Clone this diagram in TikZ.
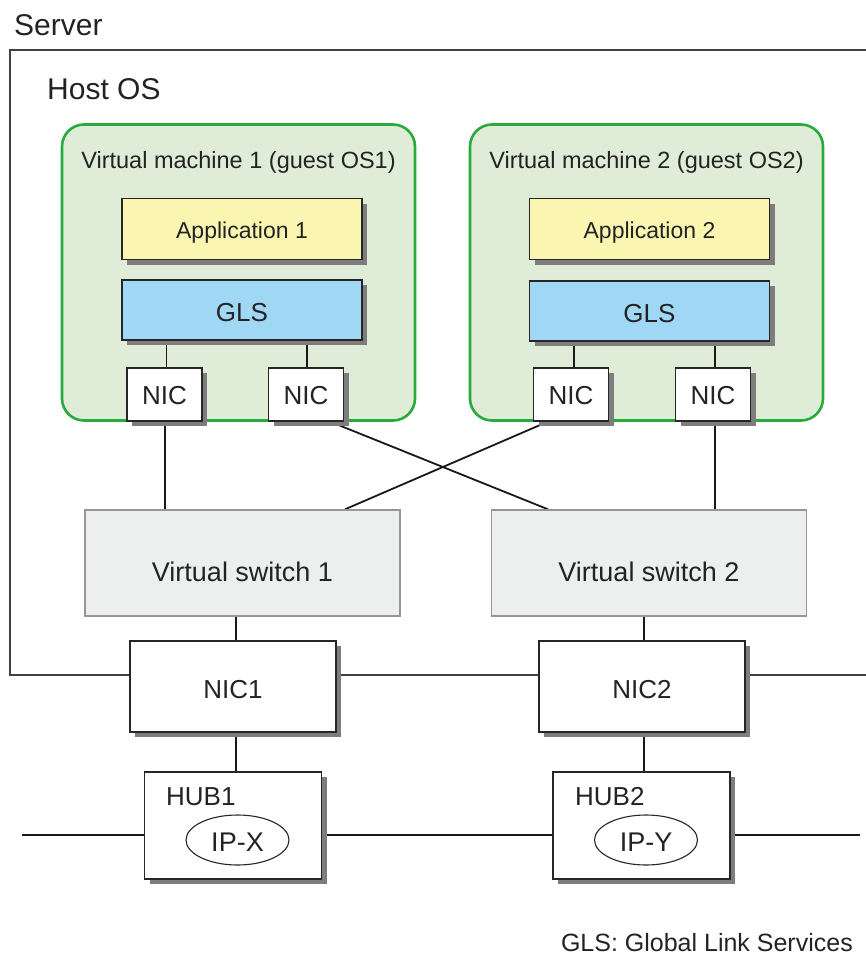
\documentclass[tikz,border=0pt]{standalone}
\usepackage{fontspec}
\setmainfont{Liberation Sans}
\usetikzlibrary{shadows,shapes.geometric}
\definecolor{txt}{RGB}{35,35,35}
\definecolor{vmfill}{RGB}{223,237,216}
\definecolor{vmline}{RGB}{40,170,60}
\definecolor{appfill}{RGB}{251,245,178}
\definecolor{glsfill}{RGB}{160,215,245}
\definecolor{vsfill}{RGB}{237,238,238}
\definecolor{vsline}{RGB}{150,150,150}
\definecolor{shad}{RGB}{125,125,125}
\pgfdeclarelayer{bg}
\pgfdeclarelayer{lines}
\pgfsetlayers{bg,lines,main}
\tikzset{
  fs/.style={font=\fontsize{#1}{#1}\selectfont},
  sbox/.style={draw=black!85, line width=1.2pt, inner sep=0pt, text=txt, text depth=0pt,
    drop shadow={shadow xshift=5pt, shadow yshift=-5pt, fill=shad, opacity=1}},
  appbox/.style={sbox, fill=appfill, minimum width=240pt, minimum height=61pt, fs=23, text height=19.6pt},
  glsbox/.style={sbox, fill=glsfill, minimum width=240pt, minimum height=60pt, fs=26, text height=23.7pt},
  nicbox/.style={sbox, fill=white, minimum width=75pt, minimum height=53pt, fs=26, text height=20.7pt},
  bignic/.style={sbox, fill=white, minimum width=206pt, minimum height=91pt, fs=26, text height=23.7pt},
  hubbox/.style={sbox, fill=white, minimum width=177pt, minimum height=107pt},
  vmbox/.style={draw=vmline, fill=vmfill, line width=2.6pt, rounded corners=22pt,
    minimum width=353pt, minimum height=296pt, inner sep=0pt},
  vsbox/.style={draw=vsline, fill=vsfill, line width=1.4pt, minimum width=315pt,
    minimum height=106pt, inner sep=0pt, text=txt, fs=27, text height=37.4pt, text depth=0pt},
  ipell/.style={ellipse, draw=black!85, line width=1.1pt, fill=white,
    minimum width=103pt, minimum height=50pt, inner sep=0pt, text=txt, fs=27,
    text height=23.4pt, text depth=0pt},
  conn/.style={draw=black!90, line width=1.8pt},
  lbl/.style={text=txt, inner sep=0pt},
}
\begin{document}
\begin{tikzpicture}[x=1pt,y=-1pt]
\useasboundingbox (0,0) rectangle (866,956);

% labels
\node[lbl, fs=30, anchor=base west] (server) at (14,35) {Server};
\node[lbl, fs=30, anchor=base west] (hostos) at (47,99) {Host OS};

% virtual machines
\begin{pgfonlayer}{bg}
\node[vmbox] (vm1) at (238.5,272.5) {};
\node[vmbox] (vm2) at (646.5,272.5) {};
\end{pgfonlayer}
\node[lbl, fs=23.5, anchor=base] (vm1t) at (238.5,168) {Virtual machine 1 (guest OS1)};
\node[lbl, fs=23.5, anchor=base] (vm2t) at (646.5,168) {Virtual machine 2 (guest OS2)};

\node[appbox] (app1) at (242,229) {Application 1};
\node[glsbox] (gls1) at (242,310) {GLS};
\node[appbox] (app2) at (649.5,229) {Application 2};
\node[glsbox] (gls2) at (649.5,311) {GLS};

\node[nicbox] (nica) at (164.5,394.5) {NIC};
\node[nicbox] (nicb) at (306,394.5) {NIC};
\node[nicbox] (nicc) at (571,394.5) {NIC};
\node[nicbox] (nicd) at (713,394.5) {NIC};

\node[vsbox] (vs1) at (242.5,563) {Virtual switch 1};
\node[vsbox] (vs2) at (649,563) {Virtual switch 2};

\node[bignic] (nic1) at (233,686.5) {NIC1};
\node[bignic] (nic2) at (642,686.5) {NIC2};

\node[hubbox] (hub1) at (233,825.5) {};
\node[hubbox] (hub2) at (641.5,825.5) {};
\node[lbl, fs=26, anchor=base west] (hub1t) at (166,805) {HUB1};
\node[lbl, fs=26, anchor=base west] (hub2t) at (575,805) {HUB2};
\node[ipell] (ipx) at (237.5,840) {IP-X};
\node[ipell] (ipy) at (646,840) {IP-Y};

\node[lbl, fs=25, anchor=base east] (note) at (853,951) {GLS: Global Link Services};

% connectors
\coordinate (srvtr) at (866,50);
\coordinate (srvtl) at (10,50);
\coordinate (srvbl) at (10,675);
\coordinate (srvbr) at (866,675);
\coordinate (netl) at (22,835);
\coordinate (netr) at (860,835);
\begin{pgfonlayer}{lines}
\draw[draw=black!75, line width=1.4pt] (srvtr) -- (srvtl) -- (srvbl) -- (srvbl -| nic1.west);
\draw[draw=black!75, line width=1.4pt] (srvbl -| nic1.east) -- (srvbl -| nic2.west);
\draw[draw=black!75, line width=1.4pt] (srvbl -| nic2.east) -- (srvbr);

\draw[conn] ([xshift=2pt]nica.north) -- ([xshift=2pt]nica.north |- gls1.south);
\draw[conn] ([xshift=1pt]nicb.north) -- ([xshift=1pt]nicb.north |- gls1.south);
\draw[conn] ([xshift=3pt]nicc.north) -- ([xshift=3pt]nicc.north |- gls2.south);
\draw[conn] ([xshift=2pt]nicd.north) -- ([xshift=2pt]nicd.north |- gls2.south);

\draw[conn] ([xshift=0.5pt]nica.south) -- ([xshift=0.5pt]nica.south |- vs1.north);
\draw[conn] ([xshift=2pt]nicd.south) -- ([xshift=2pt]nicd.south |- vs2.north);
\draw[conn] ([xshift=24pt]nicb.south) -- ([xshift=-101pt]vs2.north);
\draw[conn] ([xshift=-23pt]nicc.south) -- ([xshift=102.5pt]vs1.north);

\draw[conn] ([xshift=3pt]nic1.north) -- ([xshift=3pt]nic1.north |- vs1.south);
\draw[conn] ([xshift=2pt]nic2.north) -- ([xshift=2pt]nic2.north |- vs2.south);
\draw[conn] ([xshift=3pt]hub1.north) -- ([xshift=3pt]hub1.north |- nic1.south);
\draw[conn] ([xshift=2.5pt]hub2.north) -- ([xshift=2.5pt]hub2.north |- nic2.south);

\draw[conn, line width=2.2pt] (netl) -- (netl -| hub1.west);
\draw[conn, line width=2.2pt] (netl -| hub1.east) -- (netl -| hub2.west);
\draw[conn, line width=2.2pt] (netl -| hub2.east) -- (netr);
\end{pgfonlayer}
\end{tikzpicture}
\end{document}
